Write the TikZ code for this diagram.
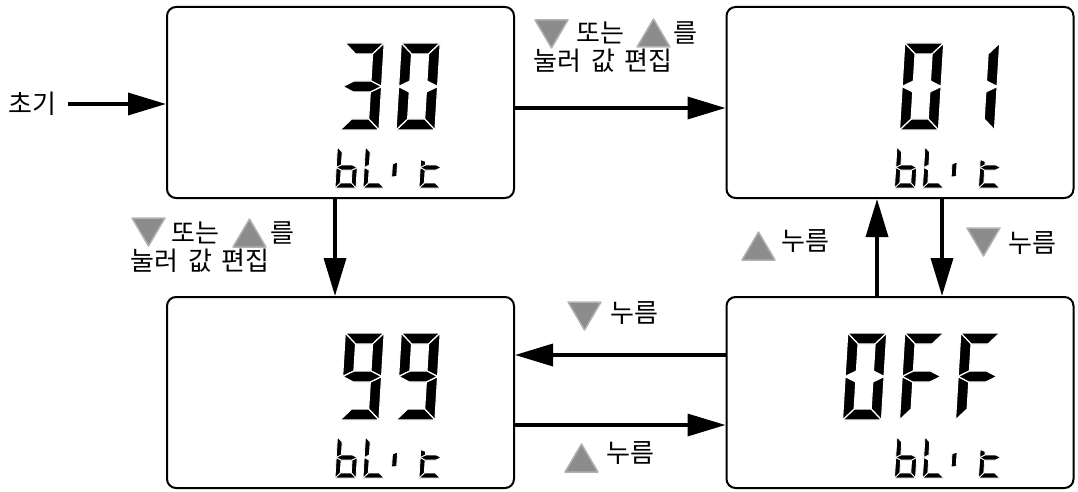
\documentclass[tikz,border=0pt]{standalone}
\usepackage{fontspec}
\newfontfamily\kr{Noto Sans CJK KR}
\usetikzlibrary{arrows.meta}
\definecolor{trigray}{RGB}{140,140,140}
\definecolor{triedge}{RGB}{178,178,178}
\tikzset{
  lcdbox/.style={draw, line width=2pt, rounded corners=9pt, minimum width=347pt, minimum height=191pt, inner sep=0pt},
  arr/.style={line width=3.5pt, -{Triangle[length=38pt,width=22pt]}},
  seg/.style={fill=black, draw=white, line width=\segw, line join=miter},
  tri/.style={fill=trigray, draw=triedge, line width=1.5pt, line join=round},
  lbl/.style={font=\kr\fontsize{26}{30}\selectfont, inner sep=0pt, anchor=west},
}
% segment outlines (local coordinates, origin bottom-left)
\newcommand\sega{(0,\dH)--(\dW,\dH)--({\dW-\dT},{\dH-\dT})--(\dT,{\dH-\dT})--cycle}
\newcommand\segb{(\dW,\dH)--(\dW,\dM)--({\dW-\dT},{\dM+\dT/2})--({\dW-\dT},{\dH-\dT})--cycle}
\newcommand\segc{(\dW,\dM)--(\dW,0)--({\dW-\dT},\dT)--({\dW-\dT},{\dM-\dT/2})--cycle}
\newcommand\segd{(0,0)--(\dT,\dT)--({\dW-\dT},\dT)--(\dW,0)--cycle}
\newcommand\sege{(0,0)--(0,\dM)--(\dT,{\dM-\dT/2})--(\dT,\dT)--cycle}
\newcommand\segf{(0,\dM)--(0,\dH)--(\dT,{\dH-\dT})--(\dT,{\dM+\dT/2})--cycle}
\newcommand\segg{(0,\dM)--(\dT,{\dM+\dT/2})--({\dW-\dT},{\dM+\dT/2})--(\dW,\dM)--({\dW-\dT},{\dM-\dT/2})--(\dT,{\dM-\dT/2})--cycle}
\newcommand\segt{(0,\dM)--(0,{\dM+8})--(\dT,{\dM+6})--(\dT,{\dM+\dT/2})--cycle}
\newcommand\segi{(0,11)--(\dT,11.5)--(\dT,26)--(0,24)--cycle}
\newcommand\dg[3]{\begin{scope}[shift={(#1,#2)},xslant=0.06]
  \foreach \s in {#3}{\path[seg] \csname seg\s\endcsname;}\end{scope}}
\newcommand\bigdims{\def\dW{39}\def\dH{87}\def\dT{11}\def\dM{43.5}\def\segw{1.2pt}}
\newcommand\smalldims{\def\dW{21}\def\dH{41}\def\dT{5}\def\dM{20.5}\def\segw{0.8pt}}
\newcommand\blit[2]{%
  \dg{#1}{#2}{c,d,e,f,g}%
  \dg{#1+28}{#2}{d,e,f}%
  \dg{#1+56}{#2}{i}%
  \dg{#1+84}{#2}{d,e,g,t}}
\newcommand\tridown[2]{\path[tri] (#1,#2) -- ++(33,0) -- ++(-16.5,-28) -- cycle;}
\newcommand\triup[2]{\path[tri] (#1,#2) -- ++(33,0) -- ++(-16.5,28) -- cycle;}
\begin{document}
\begin{tikzpicture}[x=1pt,y=1pt]
\useasboundingbox (0,0) rectangle (1078,491);
% boxes
\node[lcdbox] (b1) at (340.5,388.5) {};
\node[lcdbox] (b2) at (900,388.5) {};
\node[lcdbox] (b3) at (340.5,98.5) {};
\node[lcdbox] (b4) at (900,98.5) {};
% big digits
\bigdims
\dg{340}{361}{a,b,c,d,g}
\dg{396}{361}{a,b,c,d,e,f}
\dg{899.5}{361}{a,b,c,d,e,f}
\dg{955.5}{361}{b,c}
\dg{340}{71}{a,b,c,d,f,g}
\dg{396}{71}{a,b,c,d,f,g}
\dg{842.5}{71}{a,b,c,d,e,f}
\dg{899.5}{71}{a,e,f,g}
\dg{955.5}{71}{a,e,f,g}
% small text bLit
\smalldims
\blit{335}{303}
\blit{894.5}{303}
\blit{335}{13}
\blit{894.5}{13}
% initial arrow
\node[lbl] (init) at (8,387) {초기};
\coordinate (s0) at (68,387);
\draw[arr] (s0) -- (s0 -| b1.west);
% arrows
\draw[arr] ([yshift=-5.5pt]b1.east) -- ([yshift=-5.5pt]b2.west);
\draw[arr] ([xshift=-5.5pt]b1.south) -- ([xshift=-5.5pt]b3.north);
\draw[arr] ([xshift=-23pt]b4.north) -- ([xshift=-23pt]b2.south);
\draw[arr] ([xshift=42pt]b2.south) -- ([xshift=42pt]b4.north);
\draw[arr] ([yshift=37.5pt]b4.west) -- ([yshift=37.5pt]b3.east);
\draw[arr] ([yshift=-32.5pt]b3.east) -- ([yshift=-32.5pt]b4.west);
% top label
\tridown{535}{471}
\node[lbl] (t1) at (576,458) {또는};
\triup{637}{444}
\node[lbl] (t2) at (673,458) {를};
\node[lbl] (t3) at (533,430) {눌러\hspace{10pt}값\hspace{10pt}편집};
% left label
\tridown{132}{273}
\node[lbl] (l1) at (171,258) {또는};
\triup{233}{244}
\node[lbl] (l2) at (270,258) {를};
\node[lbl] (l3) at (130,230) {눌러\hspace{10pt}값\hspace{10pt}편집};
% press labels
\triup{742}{231}
\node[lbl] (p1) at (781,250) {누름};
\tridown{967}{263}
\node[lbl] (p2) at (1008,248) {누름};
\tridown{568}{189}
\node[lbl] (p3) at (610,178) {누름};
\triup{565}{19}
\node[lbl] (p4) at (606,38) {누름};
\end{tikzpicture}
\end{document}
